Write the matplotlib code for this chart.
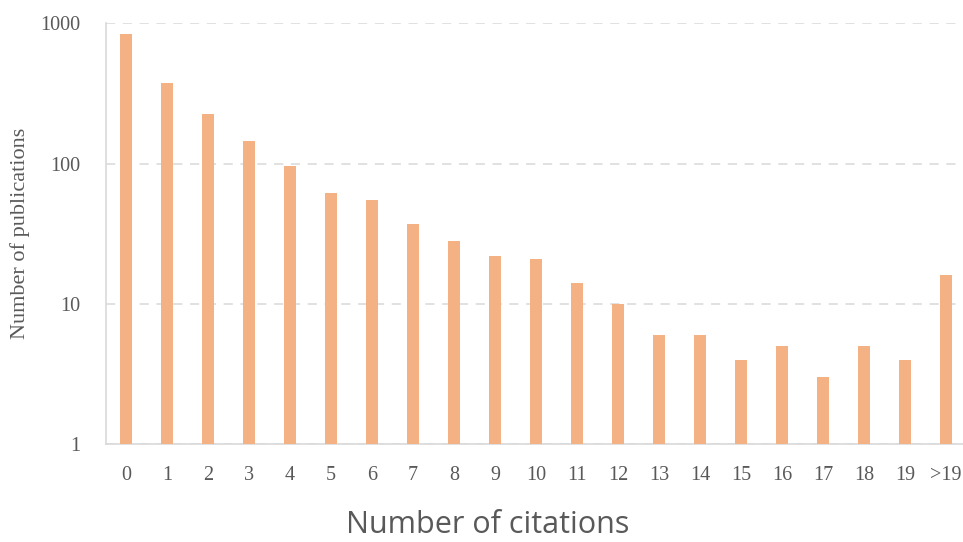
import matplotlib
matplotlib.use("Agg")
import matplotlib.pyplot as plt
import numpy as np

citation_labels = [str(i) for i in range(20)] + [">19"]
publication_counts = [840, 378, 226, 145, 96, 62, 55, 37, 28, 22, 21, 14, 10,
                      6, 6, 4, 5, 3, 5, 4, 16]

BAR_COLOUR = "#F4B183"
TEXT_COLOUR = "#595959"
GRID_COLOUR = "#D9D9D9"

fig = plt.figure(figsize=(9.63, 5.42), dpi=100)
ax = fig.add_axes([0.1096, 0.1808, 0.894, 0.776])

x = np.arange(len(citation_labels))
ax.bar(x, publication_counts, width=0.3, color=BAR_COLOUR, zorder=3)

ax.set_yscale("log")
ax.set_ylim(1, 1000)
ax.set_xlim(-0.5, len(citation_labels) - 0.5)
ax.set_yticks([1, 10, 100, 1000])
ax.set_yticklabels(["1", "10", "100", "1000"])
ax.minorticks_off()
ax.set_xticks(x)
ax.set_xticklabels(citation_labels)

serif = ["Liberation Serif", "DejaVu Serif"]
ax.tick_params(axis="both", length=0, labelcolor=TEXT_COLOUR, labelsize=14.5)
ax.tick_params(axis="y", pad=18)
ax.tick_params(axis="x", pad=16)
for lbl in ax.get_xticklabels() + ax.get_yticklabels():
    lbl.set_family(serif)

ax.yaxis.grid(True, linestyle=(0, (6, 5)), color=GRID_COLOUR, linewidth=1.1, zorder=0)
for side in ["top", "right"]:
    ax.spines[side].set_visible(False)
for side in ["left", "bottom"]:
    ax.spines[side].set_color(GRID_COLOUR)
    ax.spines[side].set_linewidth(1.2)

fig.text(0.021, 0.570, "Number of publications", rotation=90, ha="center", va="center",
         fontsize=16, color=TEXT_COLOUR, family=serif)
fig.text(0.506, 0.016, "Number of citations", ha="center", va="baseline",
         fontsize=22, color=TEXT_COLOUR, family=["Open Sans", "DejaVu Sans"])

fig.savefig("out.png", dpi=100)
